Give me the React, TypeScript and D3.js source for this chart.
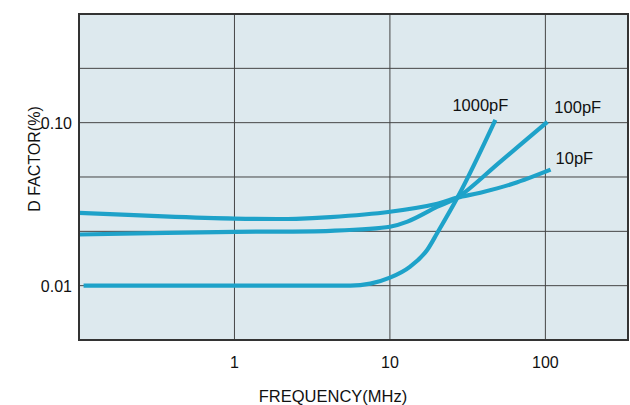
import React from "react";
import * as d3 from "d3";

const xTicks = [1, 10, 100];
const xTickLabels = ["1", "10", "100"];
const yTicks = [0.01, 0.1];
const yTickLabels = ["0.01", "0.10"];
const yGrid = [0.02154, 0.04642, 0.1, 0.2154, 0.01];

const seriesNames = ["1000pF", "100pF", "10pF"];

const freq1000 = [0.107, 1, 3, 5.57, 7.49, 10, 13.5, 17.4, 20.2, 27.2, 47.7];
const d1000 = [0.01, 0.01, 0.01, 0.01, 0.0103, 0.0112, 0.0131, 0.0166, 0.0211, 0.0347, 0.104];

const freq100 = [0.1, 1, 4.14, 10, 12.97, 20.2, 27.2, 51.4, 103];
const d100 = [0.0206, 0.0214, 0.0217, 0.023, 0.0247, 0.0305, 0.0347, 0.0577, 0.101];

const freq10 = [0.1, 0.35, 1, 2.5, 4.14, 10, 20.2, 27.2, 38.2, 62.3, 108];
const d10 = [0.028, 0.0266, 0.0258, 0.0257, 0.0263, 0.0284, 0.0318, 0.0347, 0.0372, 0.0423, 0.0515];

const labelPos = [
  { f: 47.7, d: 0.104 },
  { f: 103, d: 0.101 },
  { f: 108, d: 0.0515 },
];

const W = 630;
const H = 405;
const L = 79, R = 628, T = 14, B = 340;

export default function App() {
  const x = d3.scaleLog().domain([0.1, 340]).range([L, R]);
  const y = d3.scaleLog().domain([Math.pow(10, -7 / 3), Math.pow(10, -1 / 3)]).range([B, T]);
  const mk = (curve: d3.CurveFactory) =>
    d3
      .line<[number, number]>()
      .x((p) => x(p[0]))
      .y((p) => y(p[1]))
      .curve(curve);
  const series = [
    { pts: d3.zip(freq1000, d1000) as [number, number][], line: mk(d3.curveMonotoneX) },
    { pts: d3.zip(freq100, d100) as [number, number][], line: mk(d3.curveCatmullRom.alpha(0.5)) },
    { pts: d3.zip(freq10, d10) as [number, number][], line: mk(d3.curveCatmullRom.alpha(0.5)) },
  ];
  const font = "'Liberation Sans', Arial, sans-serif";
  const color = "#1ea2c9";
  const labelOffsets = [
    { dx: -15, dy: -9, anchor: "middle" },
    { dx: 7, dy: -9, anchor: "start" },
    { dx: 5, dy: -6, anchor: "start" },
  ];
  return (
    <svg width={W} height={H} style={{ position: "absolute", left: 0, top: 0 }} fontFamily={font}>
      <rect x={L} y={T} width={R - L} height={B - T} fill="#dde9ee" />
      <defs>
        <clipPath id="plotclip">
          <rect x={L} y={T} width={R - L} height={B - T} />
        </clipPath>
      </defs>
      {yGrid.map((v, i) => (
        <line key={"yg" + i} x1={L} x2={R} y1={y(v)} y2={y(v)} stroke="#454545" strokeWidth={1} />
      ))}
      {xTicks.map((v, i) => (
        <line key={"xg" + i} x1={x(v)} x2={x(v)} y1={T} y2={B} stroke="#454545" strokeWidth={1} />
      ))}
      <g clipPath="url(#plotclip)">
        {series.map((s, i) => (
          <path key={"s" + i} d={s.line(s.pts) || ""} fill="none" stroke={color} strokeWidth={4.2} />
        ))}
      </g>
      <rect x={L} y={T} width={R - L} height={B - T} fill="none" stroke="#333" strokeWidth={2} />
      {seriesNames.map((n, i) => (
        <text
          key={"l" + i}
          x={x(labelPos[i].f) + labelOffsets[i].dx}
          y={y(labelPos[i].d) + labelOffsets[i].dy}
          textAnchor={labelOffsets[i].anchor}
          fontSize={16.5}
          fill="#111"
        >
          {n}
        </text>
      ))}
      {yTicks.map((v, i) => (
        <text key={"yt" + i} x={72} y={y(v) + 6} textAnchor="end" fontSize={16} fill="#111">
          {yTickLabels[i]}
        </text>
      ))}
      {xTicks.map((v, i) => (
        <text key={"xt" + i} x={x(v)} y={368} textAnchor="middle" fontSize={16} fill="#111">
          {xTickLabels[i]}
        </text>
      ))}
      <text x={333} y={402} textAnchor="middle" fontSize={16.5} fill="#111">
        FREQUENCY(MHz)
      </text>
      <text
        transform={`translate(40,159) rotate(-90)`}
        textAnchor="middle"
        fontSize={16}
        fill="#111"
      >
        D FACTOR(%)
      </text>
    </svg>
  );
}
